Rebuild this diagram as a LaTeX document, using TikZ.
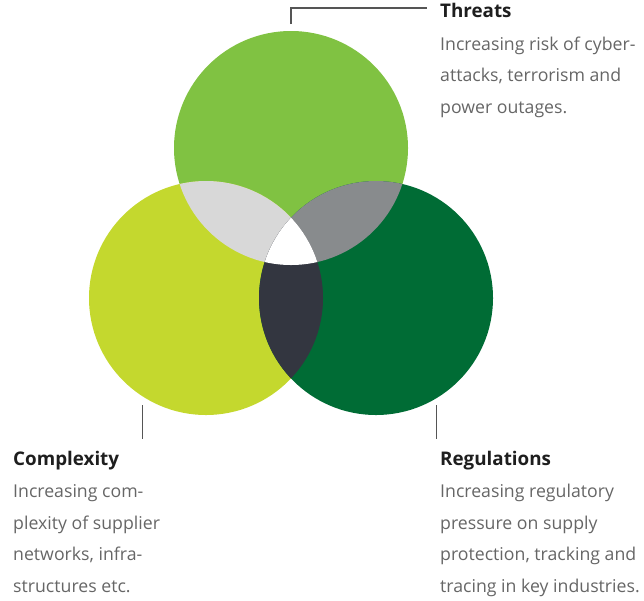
\documentclass[tikz,border=0pt]{standalone}
\usepackage{fontspec}
\setmainfont{Open Sans}
\definecolor{topc}{HTML}{80C242}
\definecolor{leftc}{HTML}{C4D82E}
\definecolor{rightc}{HTML}{006C35}
\definecolor{lgray}{HTML}{D8D8D8}
\definecolor{mgray}{HTML}{888B8D}
\definecolor{dgray}{HTML}{333640}
\definecolor{bodytxt}{HTML}{666666}
\definecolor{titletxt}{HTML}{1E1E1E}
\definecolor{leader}{HTML}{555555}
\tikzset{
  venn/.style={circle, inner sep=0pt, minimum size=234pt},
  title/.style={anchor=base west, inner sep=0pt, font=\fontsize{18.8}{22}\selectfont\bfseries, text=titletxt},
  body/.style={anchor=base west, inner sep=0pt, font=\fontsize{17.7}{21}\selectfont, text=bodytxt},
  leaderline/.style={draw=leader, line width=1.2pt}
}
\begin{document}
\begin{tikzpicture}[x=1pt,y=-1pt]
\useasboundingbox (0,0) rectangle (644,600);
% circles
\node[venn, fill=topc] (T) at (291,148) {};
\node[venn, fill=leftc] (L) at (206,298) {};
\node[venn, fill=rightc] (R) at (376,298) {};
% pairwise intersections
\begin{scope}
  \clip (T.center) circle[radius=117pt];
  \fill[lgray] (L.center) circle[radius=117pt];
\end{scope}
\begin{scope}
  \clip (T.center) circle[radius=117pt];
  \fill[mgray] (R.center) circle[radius=117pt];
\end{scope}
\begin{scope}
  \clip (L.center) circle[radius=117pt];
  \fill[dgray] (R.center) circle[radius=117pt];
\end{scope}
\begin{scope}
  \clip (T.center) circle[radius=117pt];
  \clip (L.center) circle[radius=117pt];
  \fill[white] (R.center) circle[radius=117pt];
\end{scope}
% leader lines
\coordinate (ta) at (291,24);
\coordinate (tb) at (291,8);
\coordinate (tc) at (427,8);
\draw[leaderline] (ta) -- (tb) -- (tc);
\coordinate (la) at (142.7,405);
\coordinate (lb) at (142.7,439);
\draw[leaderline] (la) -- (lb);
\coordinate (ra) at (436.7,405);
\coordinate (rb) at (436.7,439);
\draw[leaderline] (ra) -- (rb);
% Threats
\node[title] (th0) at (440,17) {Threats};
\node[body] (th1) at (440,50) {Increasing risk of cyber-};
\node[body] (th2) at (440,81.5) {attacks, terrorism and};
\node[body] (th3) at (440,113) {power outages.};
% Complexity
\node[title] (co0) at (13,465) {Complexity};
\node[body] (co1) at (13,497.5) {Increasing com-};
\node[body] (co2) at (13,529) {plexity of supplier};
\node[body] (co3) at (13,560.5) {networks, infra-};
\node[body] (co4) at (13,592) {structures etc.};
% Regulations
\node[title] (re0) at (440,465) {Regulations};
\node[body] (re1) at (440,497.5) {Increasing regulatory};
\node[body] (re2) at (440,529) {pressure on supply};
\node[body] (re3) at (440,560.5) {protection, tracking and};
\node[body] (re4) at (440,592) {tracing in key industries.};
\end{tikzpicture}
\end{document}
